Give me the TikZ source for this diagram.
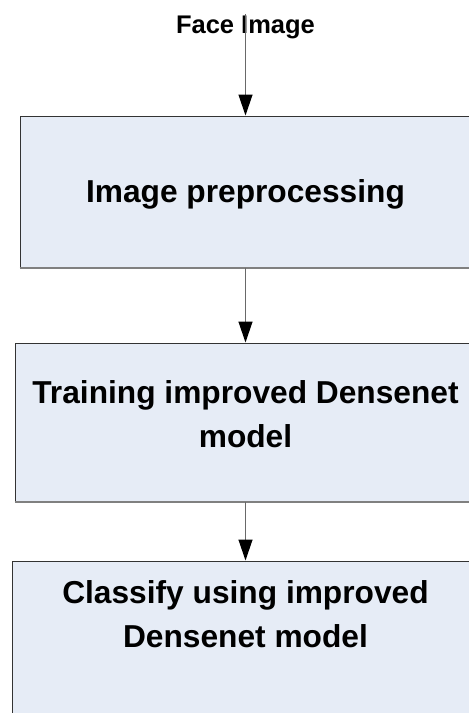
\documentclass[tikz,border=0pt]{standalone}
\usepackage{fontspec}
\setmainfont{Liberation Sans}
\usetikzlibrary{arrows.meta}
\definecolor{boxfill}{RGB}{230,236,246}
\definecolor{shaft}{RGB}{105,105,105}
\tikzset{
  stepbox/.style={rectangle, draw=black!80, line width=1pt, fill=boxfill, inner sep=0pt},
  boxlabel/.style={font=\fontsize{31.7}{44}\selectfont\bfseries, align=center, inner sep=0pt},
  inlabel/.style={font=\fontsize{25.5}{30}\selectfont\bfseries, inner sep=1.5pt},
  conn/.style={draw=shaft, line width=1.3pt, -{Triangle[length=21pt,width=14pt,black]}},
  shadowedge/.style={draw=black!50, line width=2pt}
}
\begin{document}
\begin{tikzpicture}[x=1pt,y=-1pt]
\useasboundingbox (0,0) rectangle (469,713);

% processing stages (their right sides run past the page edge)
\node[stepbox, minimum width=454pt, minimum height=151pt] (b1) at (247,191.5) {};
\node[stepbox, minimum width=463pt, minimum height=158pt] (b2) at (246.5,422) {};
\node[stepbox, minimum width=468pt, minimum height=164pt] (b3) at (246,643) {};
\draw[shadowedge] (b1.south west) -- (b1.south east);
\draw[shadowedge] (b2.south west) -- (b2.south east);

% input
\node[inlabel, anchor=base] (fi) at (245.5,33) {Face Image};

% stage texts
\node[boxlabel, anchor=base] (t1) at (fi.base |- 0,202) {Image preprocessing};
\node[boxlabel] (t2) at (fi.base |- 0,413.7) {Training improved Densenet\\model};
\node[boxlabel] (t3) at (fi.base |- 0,613.7) {Classify using improved\\Densenet model};

% flow, along the vertical axis through the input label
\draw[conn] (fi.north) -- (b1.north -| fi.north);
\draw[conn] (b1.south -| fi.north) -- (b2.north -| fi.north);
\draw[conn] (b2.south -| fi.north) -- (b3.north -| fi.north);
\end{tikzpicture}
\end{document}
